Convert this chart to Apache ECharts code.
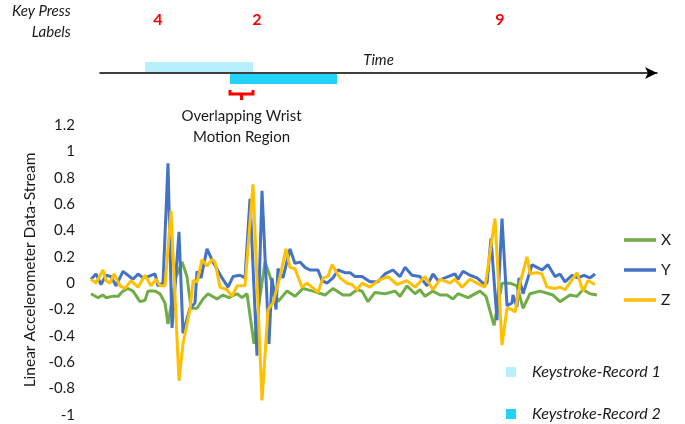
<!DOCTYPE html>
<html><head><meta charset="utf-8">
<script src="https://cdn.jsdelivr.net/npm/echarts@6/dist/echarts.min.js"></script>
<style>html,body{margin:0;padding:0;background:#fff}#c{width:685px;height:424px}</style>
</head><body><div id="c"></div>
<script>
// Sample times (arbitrary time units) and accelerometer values per axis
const tX = [0,7,12,15,21,27,32,37,42,49,54,57,64,69,74,77,85,91,96,100,106,112,117,126,132,138,146,151,156,163,169,174,179,187,196,204,212,222,234,242,252,259,266,271,277,284,294,304,309,316,324,329,334,342,349,356,362,367,377,389,395,403,411,419,426,432,439,449,462,469,479,486,492,499,506];
const X  = [-0.08,-0.11,-0.09,-0.11,-0.10,-0.10,-0.06,-0.04,-0.06,-0.14,-0.13,-0.06,-0.06,-0.08,-0.15,-0.31,0.05,0.16,0.05,-0.19,-0.19,-0.12,-0.08,-0.12,-0.09,-0.11,-0.08,-0.11,-0.08,-0.46,-0.10,0.16,0.05,-0.14,-0.06,-0.10,-0.04,-0.06,-0.09,-0.04,-0.09,-0.09,-0.05,-0.06,-0.14,-0.07,-0.08,-0.06,-0.10,-0.02,-0.08,-0.05,-0.10,-0.06,-0.09,-0.09,-0.12,-0.08,-0.11,-0.06,-0.10,-0.32,0.00,0.00,-0.02,-0.19,-0.08,-0.06,-0.09,-0.14,-0.09,-0.10,-0.05,-0.08,-0.09];

const tY = [0,5,10,15,20,25,32,37,42,47,52,57,64,67,72,77,81,88,92,99,104,106,110,116,122,131,137,142,149,154,159,166,171,178,181,185,187,192,199,204,209,214,219,227,231,236,242,247,254,259,264,271,279,287,294,302,309,314,321,329,336,342,347,354,364,367,372,379,386,392,396,400,406,411,416,421,422,426,428,432,437,441,446,451,457,464,469,474,481,487,493,499,504];
const Y  = [0.03,0.07,-0.01,0.06,0.05,-0.02,0.09,0.06,0.03,0.07,0.04,0.05,0.07,-0.02,0.00,0.91,-0.34,0.39,-0.38,-0.19,-0.15,0.09,0.04,0.26,0.16,0.04,-0.03,0.05,0.06,0.04,0.64,-0.55,0.70,-0.46,0.04,-0.20,0.11,0.04,0.26,0.15,0.16,0.12,0.10,0.10,0.02,0.00,0.04,0.10,0.08,0.08,0.05,0.05,0.01,0.01,0.07,0.10,0.05,0.12,0.06,0.05,-0.02,0.07,0.02,0.04,0.07,0.03,0.09,0.06,0.04,0.00,0.00,0.34,-0.28,0.49,-0.17,-0.15,-0.09,-0.18,0.04,-0.08,0.04,0.14,0.12,0.10,0.14,0.05,0.07,0.01,0.06,0.04,0.06,0.04,0.07];

const tZ = [0,5,12,15,19,23,29,34,40,47,54,60,65,69,74,80,88,92,99,102,106,111,116,121,124,129,136,141,146,154,162,171,177,182,189,195,199,204,211,216,221,227,232,237,241,249,256,261,266,271,279,287,297,306,316,324,334,342,349,359,364,371,379,386,394,404,411,416,421,424,429,436,439,446,451,456,464,469,474,486,492,497,504];
const Z  = [0.03,0.00,0.10,0.02,0.00,0.07,-0.02,-0.04,0.02,-0.03,0.06,-0.02,0.03,-0.02,-0.02,0.55,-0.74,-0.46,-0.20,0.02,0.01,0.18,0.13,0.18,0.16,-0.03,-0.05,-0.10,-0.02,-0.02,0.75,-0.89,-0.20,-0.15,0.05,0.26,0.12,0.11,-0.03,0.00,-0.03,-0.07,0.04,0.05,0.14,0.04,0.00,-0.01,-0.05,0.00,-0.03,0.02,0.05,-0.01,0.02,-0.03,0.05,-0.05,0.03,0.00,0.03,-0.03,0.03,0.00,-0.03,0.49,-0.47,-0.19,-0.20,-0.22,0.00,0.20,0.07,0.08,0.07,-0.03,-0.04,-0.03,-0.05,0.08,-0.06,0.02,-0.01];

// Keystroke records [start, end] on the same time scale
const rec1 = [54, 162];
const rec2 = [139, 246];
// Key press labels and their times
const keyTimes  = [67, 166, 409];
const keyLabels = ['4', '2', '9'];

const FONT = 'Lato';
const TXT = '#1a1a1a';
const chart = echarts.init(document.getElementById('c'));

function pairs(t, v) { return t.map((x, i) => [x, v[i]]); }

function recRender(side) {
  return function (params, api) {
    const a = api.coord([api.value(0), 0]);
    const b = api.coord([api.value(1), 0]);
    const edge = api.coord([api.value(0), side])[1];
    const inner = a[1] + (side > 0 ? -1 : 1);
    return {
      type: 'rect',
      shape: { x: a[0], y: Math.min(inner, edge), width: b[0] - a[0], height: Math.abs(edge - inner) },
      style: { fill: api.visual('color') }
    };
  };
}

const overlap = [[Math.max(rec1[0], rec2[0]), Math.min(rec1[1], rec2[1])]];

chart.setOption({
  animation: false,
  textStyle: { fontFamily: FONT },
  grid: [
    { left: 91, right: 88, top: 125, bottom: 9 },
    { left: 100, right: 28, top: 62, height: 22 }
  ],
  xAxis: [
    { type: 'value', gridIndex: 0, min: 0, max: 506, show: false },
    { type: 'value', gridIndex: 1, min: 9, max: 566,
      axisLine: { show: true, onZero: true, symbol: ['none', 'arrow'], symbolSize: [9, 12], lineStyle: { color: '#000', width: 1.5 } },
      axisTick: { show: false }, axisLabel: { show: false }, splitLine: { show: false },
      name: 'Time', nameLocation: 'middle', nameGap: -31,
      nameTextStyle: { fontFamily: FONT, fontStyle: 'italic', fontSize: 15, color: TXT } }
  ],
  yAxis: [
    { type: 'value', gridIndex: 0, min: -1, max: 1.2, interval: 0.2,
      axisLine: { show: false }, axisTick: { show: false }, splitLine: { show: false },
      axisLabel: { fontSize: 15, color: TXT, margin: 16, fontFamily: FONT,
        formatter: v => String(Math.round(v * 10) / 10) },
      name: 'Linear Accelerometer Data-Stream', nameLocation: 'middle', nameGap: 50,
      nameTextStyle: { fontSize: 15.5, color: TXT, fontFamily: FONT } },
    { type: 'value', gridIndex: 1, min: -1, max: 1, show: false }
  ],
  legend: [
    { data: ['X', 'Y', 'Z'], orient: 'vertical', left: 619, top: 226, icon: 'rect', itemWidth: 32, itemHeight: 3.5, itemGap: 12,
      textStyle: { fontSize: 15.5, color: TXT, fontFamily: FONT, lineHeight: 18 } },
    { data: ['Keystroke-Record 1', 'Keystroke-Record 2'], orient: 'vertical', left: 501, top: 358, height: 80,
      icon: 'rect', itemWidth: 10, itemHeight: 10, itemGap: 24,
      textStyle: { fontSize: 16, fontStyle: 'italic', color: TXT, fontFamily: FONT, lineHeight: 18, padding: [0, 0, 0, 11] } }
  ],
  series: [
    { name: 'X', type: 'line', data: pairs(tX, X), symbol: 'none', lineStyle: { width: 3, color: '#70AD47' }, itemStyle: { color: '#70AD47' } },
    { name: 'Y', type: 'line', data: pairs(tY, Y), symbol: 'none', lineStyle: { width: 3, color: '#4472C4' }, itemStyle: { color: '#4472C4' } },
    { name: 'Z', type: 'line', data: pairs(tZ, Z), symbol: 'none', lineStyle: { width: 3, color: '#FFC000' }, itemStyle: { color: '#FFC000' } },
    { name: 'Keystroke-Record 1', type: 'custom', xAxisIndex: 1, yAxisIndex: 1, clip: false,
      itemStyle: { color: '#B5F0FC' }, encode: { x: [0, 1] }, data: [rec1], renderItem: recRender(1) },
    { name: 'Keystroke-Record 2', type: 'custom', xAxisIndex: 1, yAxisIndex: 1, clip: false,
      itemStyle: { color: '#21D2F9' }, encode: { x: [0, 1] }, data: [rec2], renderItem: recRender(-1) },
    { name: 'overlap', type: 'custom', xAxisIndex: 1, yAxisIndex: 1, clip: false, silent: true,
      encode: { x: [0, 1] }, data: overlap,
      renderItem: function (params, api) {
        const x1 = api.coord([api.value(0), -1])[0];
        const x2 = api.coord([api.value(1), -1])[0];
        const yb = api.coord([api.value(0), -1])[1];
        const xm = (x1 + x2) / 2;
        return { type: 'group', children: [
          { type: 'polyline', shape: { points: [[x1, yb + 6], [x1, yb + 10], [x2, yb + 10], [x2, yb + 6]] },
            style: { stroke: '#FF0000', lineWidth: 3, fill: null } },
          { type: 'line', shape: { x1: xm, y1: yb + 10, x2: xm, y2: yb + 16 }, style: { stroke: '#FF0000', lineWidth: 3 } },
          { type: 'text', style: { x: xm, y: yb + 22, text: 'Overlapping Wrist\nMotion Region', textAlign: 'center', textVerticalAlign: 'top',
            fontSize: 15, lineHeight: 21, fill: TXT, fontFamily: FONT } }
        ] };
      } },
    { name: 'keys', type: 'custom', xAxisIndex: 1, yAxisIndex: 1, clip: false, silent: true,
      encode: { x: 0 }, data: keyTimes.map((t, i) => [t, i]),
      renderItem: function (params, api) {
        const p = api.coord([api.value(0), 0]);
        return { type: 'text', style: { x: p[0], y: p[1] - 53, text: keyLabels[api.value(1)], textAlign: 'center', textVerticalAlign: 'middle',
          fontSize: 16, fontWeight: 'bold', fill: '#FF0000', fontFamily: FONT } };
      } }
  ],
  graphic: [
    { type: 'text', left: 12, top: 1, style: { text: 'Key Press\n    Labels', fontSize: 15, fontStyle: 'italic', lineHeight: 21, fill: TXT, fontFamily: FONT, textAlign: 'right' } }
  ]
});
</script>
</body></html>
